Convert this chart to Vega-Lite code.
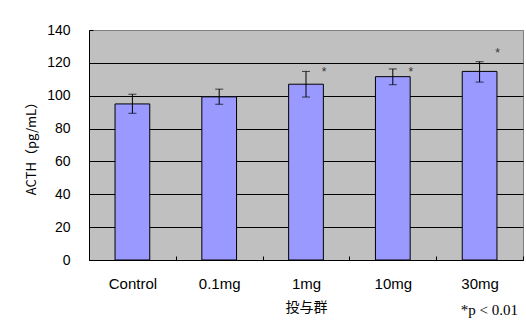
{
  "$schema": "https://vega.github.io/schema/vega-lite/v6.json",
  "width": 434,
  "height": 230,
  "autosize": "none",
  "padding": {"left": 89, "top": 30, "right": 3, "bottom": 65},
  "background": "white",
  "config": {
    "view": {"fill": "#C0C0C0", "stroke": "#808080", "strokeWidth": 1},
    "font": "Liberation Sans",
    "axisY": {
      "titleFont": "Noto Sans CJK JP",
      "titleFontSize": 13,
      "titleFontWeight": "normal",
      "titleColor": "black",
      "titlePadding": 8,
      "labelFontSize": 14,
      "labelColor": "black",
      "labelPadding": 23,
      "labelOverlap": false,
      "domainColor": "black",
      "tickColor": "black",
      "tickSize": -4,
      "grid": true,
      "gridOpacity": 1
    }
  },
  "title": {
    "text": "*p < 0.01",
    "orient": "bottom",
    "anchor": "end",
    "frame": "group",
    "font": "Liberation Serif",
    "fontSize": 15,
    "fontWeight": "normal",
    "color": "black",
    "offset": -11,
    "dx": -5
  },
  "data": {
    "values": [
      {"group": "Control", "mean": 95, "lo": 89.3, "hi": 100.9, "star_y": null},
      {"group": "0.1mg", "mean": 99.3, "lo": 94.8, "hi": 104, "star_y": null},
      {"group": "1mg", "mean": 107, "lo": 99.2, "hi": 114.8, "star_y": 116},
      {"group": "10mg", "mean": 111.6, "lo": 106.7, "hi": 116.3, "star_y": 116},
      {"group": "30mg", "mean": 114.8, "lo": 108.3, "hi": 120.7, "star_y": 127.6}
    ]
  },
  "encoding": {
    "x": {
      "field": "group",
      "type": "nominal",
      "sort": null,
      "scale": {"paddingInner": 0, "paddingOuter": 0},
      "axis": {
        "title": "投与群",
        "titleFont": "Noto Sans CJK JP",
        "titleFontSize": 14,
        "titleFontWeight": "normal",
        "titleColor": "black",
        "titlePadding": 9,
        "labelAngle": 0,
        "labelFontSize": 15,
        "labelColor": "black",
        "labelPadding": 20,
        "domainColor": "black",
        "tickColor": "black",
        "tickBand": "extent",
        "tickSize": -4,
        "grid": false
      }
    }
  },
  "layer": [
    {
      "mark": {"type": "bar", "fill": "#9999FF", "stroke": "black", "strokeWidth": 1, "width": {"band": 0.4}},
      "encoding": {
        "y": {
          "field": "mean",
          "type": "quantitative",
          "scale": {"domain": [0, 140], "nice": false},
          "axis": {
            "title": "ACTH（pg/mL）",
            "values": [0, 20, 40, 60, 80, 100, 120, 140],
            "gridColor": {"condition": {"test": "datum.value == 140", "value": "#808080"}, "value": "black"}
          }
        }
      }
    },
    {
      "mark": {"type": "rule", "color": "black", "strokeWidth": 1},
      "encoding": {
        "y": {
          "field": "lo",
          "type": "quantitative",
          "axis": {
            "title": "ACTH（pg/mL）",
            "values": [0, 20, 40, 60, 80, 100, 120, 140],
            "gridColor": {"condition": {"test": "datum.value == 140", "value": "#808080"}, "value": "black"}
          }
        },
        "y2": {"field": "hi"}
      }
    },
    {
      "mark": {"type": "tick", "color": "black", "thickness": 1, "size": 8, "orient": "horizontal"},
      "encoding": {
        "y": {
          "field": "lo",
          "type": "quantitative",
          "axis": {
            "title": "ACTH（pg/mL）",
            "values": [0, 20, 40, 60, 80, 100, 120, 140],
            "gridColor": {"condition": {"test": "datum.value == 140", "value": "#808080"}, "value": "black"}
          }
        }
      }
    },
    {
      "mark": {"type": "tick", "color": "black", "thickness": 1, "size": 8, "orient": "horizontal"},
      "encoding": {
        "y": {
          "field": "hi",
          "type": "quantitative",
          "axis": {
            "title": "ACTH（pg/mL）",
            "values": [0, 20, 40, 60, 80, 100, 120, 140],
            "gridColor": {"condition": {"test": "datum.value == 140", "value": "#808080"}, "value": "black"}
          }
        }
      }
    },
    {
      "transform": [{"filter": "datum.star_y != null"}],
      "mark": {"type": "text", "text": "*", "fontSize": 12, "color": "#333333", "dx": 18, "baseline": "middle", "dy": 3},
      "encoding": {
        "y": {
          "field": "star_y",
          "type": "quantitative",
          "axis": {
            "title": "ACTH（pg/mL）",
            "values": [0, 20, 40, 60, 80, 100, 120, 140],
            "gridColor": {"condition": {"test": "datum.value == 140", "value": "#808080"}, "value": "black"}
          }
        }
      }
    }
  ]
}
